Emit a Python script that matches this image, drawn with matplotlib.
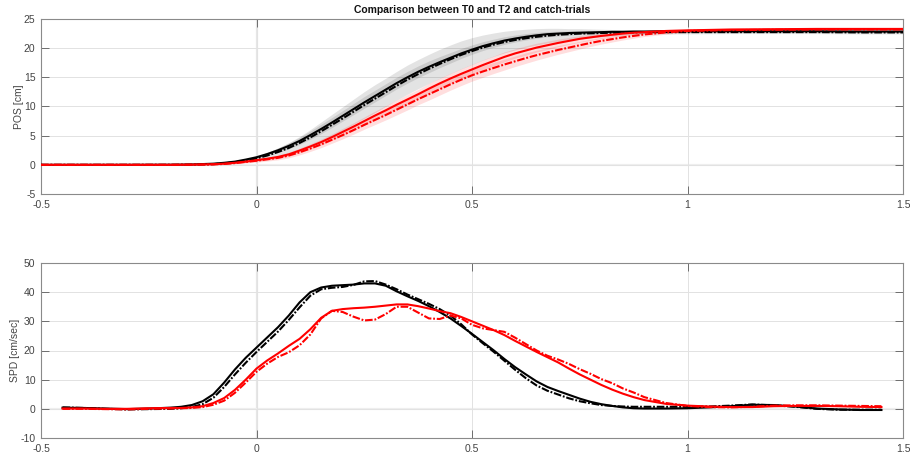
import matplotlib
matplotlib.use('Agg')
import matplotlib.pyplot as plt
import numpy as np

# ---------------- data ----------------
t_pos = [-0.5, -0.4, -0.3, -0.2, -0.15, -0.1, -0.075, -0.05, -0.025,
         0.0, 0.025, 0.05, 0.075, 0.1, 0.125, 0.15, 0.175, 0.2, 0.225, 0.25,
         0.275, 0.3, 0.325, 0.35, 0.375, 0.4, 0.425, 0.45, 0.475, 0.5,
         0.525, 0.55, 0.575, 0.6, 0.625, 0.65, 0.675, 0.7, 0.725, 0.75,
         0.775, 0.8, 0.825, 0.85, 0.875, 0.9, 0.95, 1.0, 1.1, 1.2, 1.3, 1.4, 1.5]

pos_T0 = [0.0, 0.0, 0.0, 0.02, 0.06, 0.2, 0.35, 0.55, 0.9,
          1.3, 1.85, 2.5, 3.25, 4.1, 5.1, 6.15, 7.25, 8.4, 9.55, 10.7,
          11.8, 12.9, 14.0, 15.0, 15.95, 16.8, 17.6, 18.35, 19.1, 19.75,
          20.35, 20.85, 21.3, 21.65, 21.95, 22.2, 22.4, 22.5, 22.6, 22.65,
          22.7, 22.75, 22.8, 22.8, 22.85, 22.85, 22.9, 22.9, 22.9, 22.9, 22.9, 22.85, 22.85]
pos_T0_catch = [0.0, 0.0, 0.0, 0.0, 0.03, 0.12, 0.25, 0.45, 0.75,
                1.1, 1.6, 2.2, 2.9, 3.75, 4.7, 5.75, 6.85, 7.95, 9.1, 10.25,
                11.35, 12.45, 13.55, 14.6, 15.55, 16.45, 17.3, 18.1, 18.85, 19.5,
                20.1, 20.6, 21.05, 21.4, 21.7, 21.95, 22.15, 22.3, 22.4, 22.5,
                22.55, 22.6, 22.65, 22.7, 22.7, 22.75, 22.75, 22.75, 22.75, 22.75, 22.75, 22.7, 22.7]
pos_T2 = [0.0, 0.0, 0.0, 0.0, 0.03, 0.1, 0.2, 0.35, 0.55,
          0.8, 1.05, 1.35, 1.8, 2.45, 3.15, 3.9, 4.75, 5.65, 6.55, 7.5,
          8.45, 9.35, 10.3, 11.2, 12.1, 13.05, 13.95, 14.8, 15.6, 16.35,
          17.1, 17.8, 18.5, 19.1, 19.6, 20.1, 20.5, 20.9, 21.25, 21.6,
          21.85, 22.1, 22.3, 22.5, 22.65, 22.75, 22.95, 23.05, 23.2, 23.25, 23.3, 23.3, 23.3]
pos_T2_catch = [0.0, 0.0, 0.0, 0.0, 0.02, 0.08, 0.15, 0.3, 0.5,
                0.7, 0.95, 1.2, 1.6, 2.15, 2.8, 3.5, 4.3, 5.1, 5.95, 6.85,
                7.7, 8.55, 9.45, 10.35, 11.25, 12.1, 12.95, 13.8, 14.6, 15.35,
                16.0, 16.6, 17.2, 17.75, 18.3, 18.8, 19.25, 19.7, 20.1, 20.5,
                20.9, 21.25, 21.55, 21.85, 22.1, 22.35, 22.7, 22.95, 23.1, 23.15, 23.2, 23.2, 23.2]

sd_T0 = [0, 0, 0, 0, 0.02, 0.05, 0.08, 0.12, 0.16,
         0.2, 0.3, 0.4, 0.5, 0.6, 0.7, 0.8, 0.85, 0.9, 0.95, 1.0,
         1.0, 1.0, 1.0, 1.0, 1.0, 1.0, 0.95, 0.9, 0.85, 0.8,
         0.75, 0.7, 0.65, 0.6, 0.55, 0.5, 0.45, 0.4, 0.35, 0.3,
         0.3, 0.25, 0.25, 0.25, 0.2, 0.2, 0.2, 0.2, 0.2, 0.2, 0.2, 0.2, 0.2]
sd_T0_catch = [0, 0, 0, 0, 0.03, 0.08, 0.12, 0.18, 0.25,
               0.35, 0.5, 0.7, 0.9, 1.1, 1.35, 1.6, 1.8, 2.0, 2.15, 2.3,
               2.4, 2.4, 2.45, 2.5, 2.5, 2.5, 2.5, 2.45, 2.4, 2.3,
               2.15, 2.0, 1.85, 1.7, 1.55, 1.4, 1.25, 1.1, 0.95, 0.85,
               0.75, 0.65, 0.55, 0.45, 0.4, 0.35, 0.3, 0.3, 0.25, 0.25, 0.25, 0.25, 0.25]
sd_T2 = [0, 0, 0, 0, 0.02, 0.05, 0.08, 0.1, 0.15,
         0.2, 0.25, 0.3, 0.35, 0.4, 0.45, 0.5, 0.55, 0.6, 0.65, 0.7,
         0.75, 0.8, 0.8, 0.85, 0.85, 0.9, 0.9, 0.9, 0.9, 0.9,
         0.9, 0.85, 0.85, 0.8, 0.8, 0.75, 0.7, 0.65, 0.6, 0.55,
         0.5, 0.45, 0.4, 0.35, 0.3, 0.3, 0.25, 0.25, 0.2, 0.2, 0.2, 0.2, 0.2]
sd_T2_catch = [0, 0, 0, 0, 0.02, 0.06, 0.1, 0.12, 0.18,
               0.25, 0.3, 0.35, 0.4, 0.45, 0.5, 0.55, 0.6, 0.65, 0.7, 0.75,
               0.8, 0.85, 0.9, 0.95, 0.95, 1.0, 1.0, 1.0, 1.0, 1.0,
               1.0, 0.95, 0.95, 0.9, 0.9, 0.85, 0.8, 0.75, 0.7, 0.65,
               0.6, 0.55, 0.5, 0.45, 0.4, 0.35, 0.3, 0.3, 0.25, 0.25, 0.25, 0.25, 0.25]

t_spd = [-0.45, -0.4, -0.35, -0.3, -0.25, -0.2,
         -0.175, -0.15, -0.125, -0.1, -0.075, -0.05, -0.025,
         0.0, 0.025, 0.05, 0.075, 0.1, 0.125, 0.15, 0.175, 0.2, 0.225, 0.25,
         0.275, 0.3, 0.325, 0.35, 0.375, 0.4, 0.425, 0.45, 0.475, 0.5,
         0.525, 0.55, 0.575, 0.6, 0.625, 0.65, 0.675, 0.7, 0.725, 0.75,
         0.775, 0.8, 0.825, 0.85, 0.875, 0.9,
         0.95, 1.0, 1.05, 1.1, 1.15, 1.2, 1.25, 1.3, 1.35, 1.4, 1.45]

spd_T0 = [0.4, 0.3, 0.1, -0.1, 0.1, 0.4,
          0.7, 1.3, 2.6, 5.0, 9.0, 13.5, 17.5,
          21.0, 24.5, 28.0, 32.0, 36.5, 40.0, 41.6, 42.2, 42.4, 42.6, 43.0,
          43.0, 42.2, 40.3, 38.6, 37.0, 35.2, 33.2, 31.0, 28.4, 25.7,
          22.9, 20.1, 17.1, 14.3, 11.8, 9.4, 7.5, 6.1, 4.8, 3.5,
          2.4, 1.6, 1.0, 0.5, 0.2, 0.1,
          0.1, 0.2, 0.5, 0.9, 1.4, 1.3, 0.8, 0.1, -0.2, -0.4, -0.4]
spd_T0_catch = [0.5, 0.3, 0.0, -0.2, -0.1, 0.0,
                0.2, 0.6, 1.6, 3.8, 7.5, 11.8, 15.8,
                19.5, 23.0, 26.5, 30.5, 34.8, 38.8, 41.0, 41.5, 41.8, 42.5, 43.7,
                43.8, 42.6, 41.0, 39.2, 37.6, 36.0, 34.2, 32.0, 29.0, 25.5,
                22.5, 19.6, 16.5, 13.4, 10.5, 8.0, 6.2, 4.9, 3.6, 2.6,
                1.9, 1.3, 1.0, 0.8, 0.7, 0.7,
                0.7, 0.7, 0.8, 1.1, 1.5, 1.2, 0.7, 0.0, -0.3, -0.3, -0.3]
spd_T2 = [0.1, 0.1, 0.0, 0.0, 0.2, 0.3,
          0.3, 0.5, 0.9, 2.0, 3.7, 6.5, 10.0,
          13.8, 16.6, 19.0, 21.6, 24.0, 27.3, 31.2, 33.6, 34.2, 34.5, 34.7,
          35.0, 35.4, 35.8, 35.8, 35.2, 34.4, 33.5, 32.8, 31.5, 30.0,
          28.5, 27.0, 25.3, 23.3, 21.4, 19.5, 17.7, 15.9, 13.8, 11.8,
          10.0, 8.2, 6.6, 5.2, 4.0, 3.0,
          1.7, 1.1, 0.8, 0.6, 0.6, 0.9, 1.0, 1.0, 0.9, 0.7, 0.6]
spd_T2_catch = [0.0, 0.0, -0.1, -0.2, 0.0, 0.1,
                0.2, 0.3, 0.6, 1.4, 2.8, 5.5, 9.0,
                12.7, 15.5, 17.8, 19.4, 21.8, 25.5, 31.0, 33.6, 33.2, 31.6, 30.3,
                30.6, 32.5, 35.0, 35.0, 33.0, 31.0, 30.8, 32.0, 31.0, 28.8,
                27.6, 27.0, 26.4, 24.4, 22.2, 20.0, 18.2, 16.9, 15.4, 13.6,
                12.0, 10.2, 8.8, 7.0, 5.6, 4.0,
                2.0, 1.0, 0.6, 0.5, 0.7, 1.1, 1.2, 1.2, 1.1, 1.0, 0.9]

x_ticks = [-0.5, 0, 0.5, 1, 1.5]
x_tick_labels = ['-0.5', '0', '0.5', '1', '1.5']
pos_ticks = [-5, 0, 5, 10, 15, 20, 25]
spd_ticks = [-10, 0, 10, 20, 30, 40, 50]
title = 'Comparison between T0 and T2 and catch-trials'

# ---------------- plot ----------------
plt.rcParams['font.family'] = ['Liberation Sans', 'DejaVu Sans']
plt.rcParams['axes.unicode_minus'] = False
plt.rcParams['lines.scale_dashes'] = False

W, H = 910, 459
fig = plt.figure(figsize=(W / 100, H / 100), dpi=100)
ax1 = fig.add_axes([41 / W, 1 - 194 / H, 862 / W, 175 / H])
ax2 = fig.add_axes([41 / W, 1 - 438 / H, 862 / W, 175 / H])

dash = (5.5, 1.3, 1.3, 1.3)


def style(ax, yticks):
    ax.set_xlim(-0.5, 1.5)
    ax.set_ylim(yticks[0], yticks[-1])
    ax.set_xticks(x_ticks)
    ax.set_xticklabels(x_tick_labels)
    ax.set_yticks(yticks)
    ax.set_yticklabels([str(v) for v in yticks])
    ax.grid(True, color='#e2e2e2', lw=0.7)
    ax.set_axisbelow(True)
    ax.tick_params(direction='in', top=True, right=True, length=5.5,
                   width=0.6, color='#5a5a5a', labelsize=7.5,
                   labelcolor='#444444', pad=4)
    for s in ax.spines.values():
        s.set_color('#8a8a8a')
        s.set_linewidth(0.8)
    ax.axvline(0, color='#e6e6e6', lw=1.6, zorder=0.5)
    ax.axhline(0, color='#eeeeee', lw=1.6, zorder=0.5)


tp = np.array(t_pos)
for m, sd, c in [(pos_T0, sd_T0, 'k'), (pos_T0_catch, sd_T0_catch, 'k'),
                 (pos_T2, sd_T2, 'r'), (pos_T2_catch, sd_T2_catch, 'r')]:
    m = np.array(m); sd = np.array(sd)
    ax1.fill_between(tp, m - sd, m + sd, color=c, alpha=0.11 if c == 'k' else 0.13,
                     lw=0, zorder=1)

ax1.plot(t_pos, pos_T0, color='k', lw=1.5, zorder=3)
ax1.plot(t_pos, pos_T0_catch, color='k', lw=1.5, dashes=dash, zorder=3)
ax1.plot(t_pos, pos_T2, color='r', lw=1.5, zorder=4)
ax1.plot(t_pos, pos_T2_catch, color='r', lw=1.5, dashes=dash, zorder=4)
style(ax1, pos_ticks)
ax1.set_ylabel('POS [cm]', fontsize=7.5, color='#444444', labelpad=0)
ax1.set_title(title, fontsize=7.5, fontweight='bold', pad=4, color='#111111')

ax2.plot(t_spd, spd_T0, color='k', lw=1.5, zorder=3)
ax2.plot(t_spd, spd_T0_catch, color='k', lw=1.5, dashes=dash, zorder=3)
ax2.plot(t_spd, spd_T2, color='r', lw=1.5, zorder=4)
ax2.plot(t_spd, spd_T2_catch, color='r', lw=1.5, dashes=dash, zorder=4)
style(ax2, spd_ticks)
ax2.set_ylabel('SPD [cm/sec]', fontsize=7.5, color='#444444', labelpad=0)

fig.savefig('out.png', dpi=100)
